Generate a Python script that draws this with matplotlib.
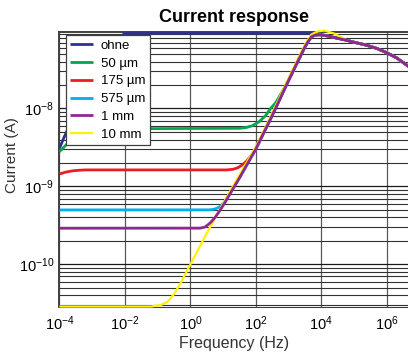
import numpy as np
import matplotlib
matplotlib.use("Agg")
import matplotlib.pyplot as plt
from matplotlib.ticker import (FixedLocator, LogLocator, NullLocator,
                               NullFormatter, LogFormatterMathtext)

plt.rcParams["font.family"] = ["Liberation Sans", "DejaVu Sans"]
plt.rcParams["mathtext.default"] = "regular"

# values: log10(frequency / Hz), log10(current / A)
tail_lf = [4.0, 4.2, 4.4, 4.75, 5.0, 5.365, 5.7, 5.975, 6.3, 6.7]
tail_li = [-7.055, -7.07, -7.09, -7.122, -7.15, -7.186, -7.23, -7.28, -7.35, -7.47]

rise_lf = [1.5, 2.0, 2.5, 3.0, 3.3, 3.5, 3.6, 3.7, 3.8, 3.9]
rise_li = [-8.89, -8.52, -8.09, -7.64, -7.38, -7.21, -7.14, -7.08, -7.06, -7.055]

ohne_lf = [-4.0, -3.85, -3.5, -3.0, -2.5, -2.2, -2.0, 3.7, 3.8, 3.9] + tail_lf
ohne_li = [-8.51, -8.36, -8.05, -7.65, -7.3, -7.1, -7.036, -7.036, -7.045, -7.05] + tail_li

um50_lf = [-4.0, -3.64, -3.4, -3.0, -2.5, 1.5, 1.7, 1.9, 2.1, 2.3, 2.45, 2.6, 2.8,
           3.0, 3.3, 3.5, 3.6, 3.7, 3.8, 3.9] + tail_lf
um50_li = [-8.554, -8.40, -8.32, -8.275, -8.26, -8.254, -8.245, -8.22, -8.17, -8.09,
           -8.0, -7.93, -7.79, -7.64, -7.38, -7.21, -7.14, -7.08, -7.06, -7.055] + tail_li

um175_lf = [-4.0, -3.8, -3.6, -3.4, -3.2, 1.1, 1.3, 1.45, 1.6, 1.75, 1.9] + rise_lf[1:] + tail_lf
um175_li = [-8.84, -8.815, -8.80, -8.792, -8.788, -8.788, -8.78, -8.76, -8.72, -8.66,
            -8.58] + rise_li[1:] + tail_li

um575_lf = [-4.0, 0.6, 0.75, 0.9, 1.0, 1.1, 1.2] + rise_lf + tail_lf
um575_li = [-9.301, -9.30, -9.29, -9.26, -9.22, -9.16, -9.09] + rise_li + tail_li

mm1_lf = [-4.0, 0.3, 0.45, 0.6, 0.75, 0.9, 1.05] + rise_lf + tail_lf
mm1_li = [-9.536, -9.535, -9.52, -9.47, -9.40, -9.31, -9.21] + rise_li + tail_li

mm10_lf = [-4.0, -1.2, -0.9, -0.7, -0.5, -0.3, 0.0, 0.5, 1.0, 1.5, 2.0, 2.5, 3.0,
           3.3, 3.5, 3.7, 3.9, 4.1, 4.4, 4.75, 5.0, 5.365, 5.7, 5.975, 6.3, 6.7]
mm10_li = [-10.54, -10.54, -10.52, -10.48, -10.38, -10.24, -10.0, -9.60, -9.22, -8.85,
           -8.49, -8.06, -7.61, -7.35, -7.18, -7.05, -7.01, -7.0, -7.04, -7.12, -7.15,
           -7.186, -7.23, -7.28, -7.35, -7.47]

labels = ["ohne", "50 µm", "175 µm", "575 µm", "1 mm", "10 mm"]
colors = ["#2e3192", "#00a651", "#ed1c24", "#00aeef", "#92278f", "#fff200"]
series = [(ohne_lf, ohne_li), (um50_lf, um50_li), (um175_lf, um175_li),
          (um575_lf, um575_li), (mm1_lf, mm1_li), (mm10_lf, mm10_li)]

x_ticks = [1e-4, 1e-2, 1e0, 1e2, 1e4, 1e6]
y_ticks = [1e-10, 1e-9, 1e-8]

fig = plt.figure(figsize=(4.08, 3.59), dpi=100)
ax = fig.add_axes([0.1458, 0.1462, 0.8542, 0.7655])

# purple sits on top of everything, yellow over the bottom spine
zorders = [3, 3, 3, 3, 7, 6]
handles = []
for (lf, li), lab, col, z in zip(series, labels, colors, zorders):
    f = 10.0 ** np.array(lf)
    i = 10.0 ** np.array(li)
    lw = 1.6 if lab == "10 mm" else 2.0
    (h,) = ax.plot(f, i, color=col, lw=lw, label=lab, zorder=z,
                   solid_capstyle="butt")
    if lab == "10 mm":
        h.set_clip_on(False)
    handles.append(h)

ax.set_xscale("log")
ax.set_yscale("log")
ax.set_xlim(1e-4, 10 ** 6.65)
ax.set_ylim(10 ** -10.54, 10 ** -7.015)

ax.xaxis.set_major_locator(FixedLocator(x_ticks))
ax.xaxis.set_minor_locator(NullLocator())
ax.xaxis.set_major_formatter(LogFormatterMathtext(base=10.0))
ax.yaxis.set_major_locator(FixedLocator(y_ticks))
ax.yaxis.set_major_formatter(LogFormatterMathtext(base=10.0))
ax.yaxis.set_minor_locator(LogLocator(base=10.0, subs=np.arange(2, 10), numticks=50))
ax.yaxis.set_minor_formatter(NullFormatter())

ax.grid(True, axis="x", which="major", color="0.35", lw=0.9, zorder=1)
ax.grid(True, axis="y", which="major", color="0.1", lw=0.9)
ax.grid(True, axis="y", which="minor", color="0.2", lw=0.8)
ax.set_axisbelow(True)

ax.tick_params(axis="both", which="both", length=0, labelsize=10.5)
ax.tick_params(axis="x", pad=6)
ax.tick_params(axis="y", pad=4)

for s in ["left", "top"]:
    ax.spines[s].set_color("0.25")
    ax.spines[s].set_linewidth(1.4)
ax.spines["right"].set_visible(False)
ax.spines["bottom"].set_color("0.25")

ax.set_title("Current response", fontsize=13, fontweight="bold", pad=7)
ax.set_xlabel("Frequency (Hz)", fontsize=11.5, color="0.2", labelpad=2)
ax.set_ylabel("Current (A)", fontsize=11, color="0.2")
ax.yaxis.set_label_coords(-0.115, 0.55)

leg = ax.legend(handles=handles, loc="upper left", bbox_to_anchor=(0.0178, 0.988),
                borderaxespad=0, fontsize=9.5, frameon=True, fancybox=False,
                framealpha=1, edgecolor="0.25", handlelength=1.7,
                handletextpad=0.6, labelspacing=0.42, borderpad=0.35)
leg.get_frame().set_linewidth(0.9)
leg.set_zorder(10)

fig.savefig("out.png", dpi=100)
